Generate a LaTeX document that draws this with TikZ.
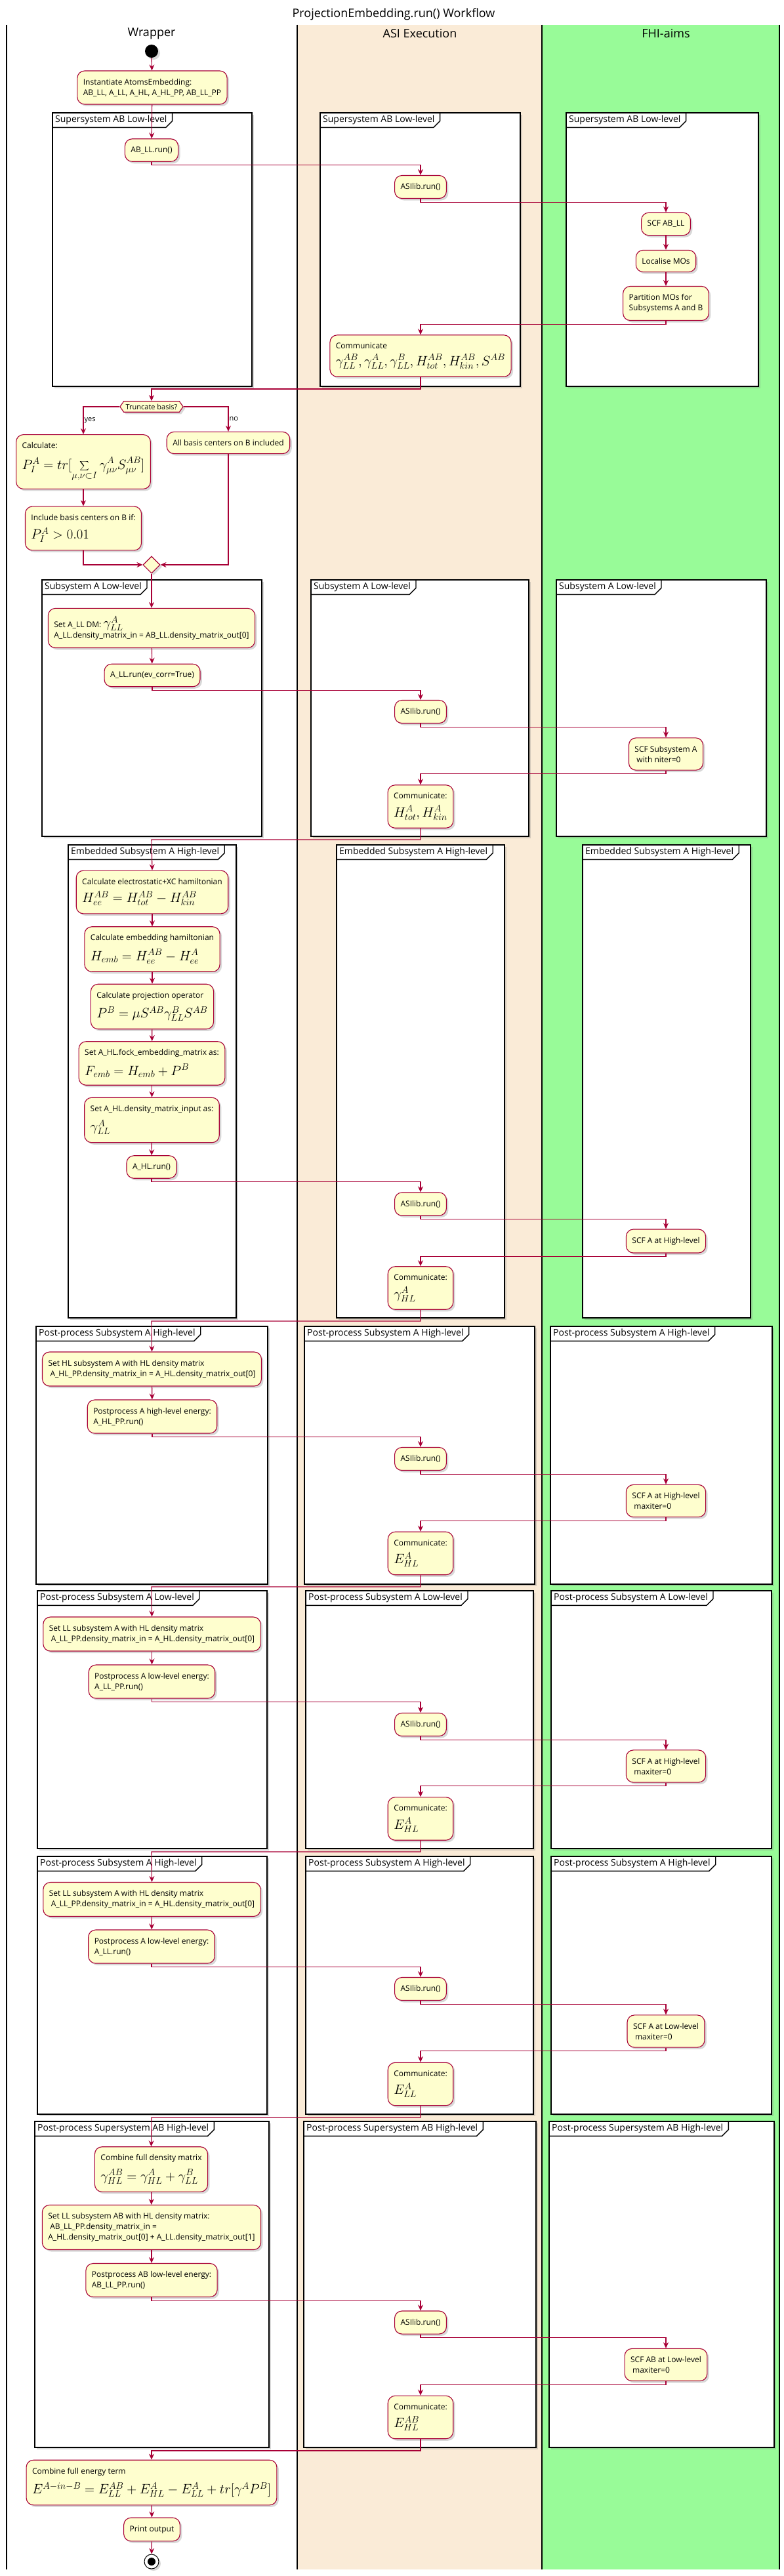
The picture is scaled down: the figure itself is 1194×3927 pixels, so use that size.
\documentclass[tikz,border=0pt]{standalone}
\usepackage[no-math]{fontspec}
\setmainfont{Open Sans}
\usetikzlibrary{arrows.meta, shapes.geometric, shapes.symbols, shadows}

\definecolor{umlred}{HTML}{A80036}
\definecolor{umlyellow}{HTML}{FEFECE}
\definecolor{asiBG}{HTML}{FAEBD7}
\definecolor{aimsBG}{HTML}{98FB98}

% bigger type for the formulas
\newcommand{\mth}{\fontsize{20}{24}\selectfont}
% group frame: left, top, right, bottom, title
\newcommand{\grp}[5]{%
\draw[grpframe] (#1,#2) rectangle (#3,#4) ;
\node[grptitle] (gtitle) at (#1,#2) {#5} ;
\draw[line width=1.4pt] (gtitle.south west) -- ([xshift=-6pt]gtitle.south east)
-- ([xshift=4pt, yshift=10pt]gtitle.south east) -- ([xshift=4pt]gtitle.north east) ;
}

\begin{document}
\begin{tikzpicture}[x=1pt, y=-1pt,
act/.style={draw=umlred, fill=umlyellow, line width=1.1pt, rounded corners=11pt,
  align=left, inner xsep=9pt, inner ysep=12pt, font=\fontsize{12}{16}\selectfont,
  drop shadow={shadow xshift=3pt, shadow yshift=-3pt, opacity=0.3}},
dec/.style={signal, signal to=east and west, signal from=nowhere, signal pointer angle=110,
  draw=umlred, fill=umlyellow, line width=1.1pt, inner xsep=3pt, inner ysep=4pt,
  font=\fontsize{11}{13}\selectfont,
  drop shadow={shadow xshift=3pt, shadow yshift=-3pt, opacity=0.3}},
merge/.style={diamond, draw=umlred, fill=umlyellow, line width=1.1pt, minimum size=26pt,
  inner sep=0pt, drop shadow={shadow xshift=3pt, shadow yshift=-3pt, opacity=0.3}},
grpframe/.style={draw=black, line width=1.4pt, fill=white,
  drop shadow={shadow xshift=3pt, shadow yshift=-3pt, opacity=0.3}},
grptitle/.style={anchor=north west, inner xsep=4pt, inner ysep=0pt, minimum height=22pt,
  font=\fontsize{14}{16}\selectfont},
lane/.style={font=\fontsize{18}{20}\selectfont},
flow/.style={draw=umlred, line width=1.1pt, -{Stealth[length=9pt, width=8pt, inset=3pt]}},
branch/.style={font=\fontsize{11}{13}\selectfont, inner sep=1pt, anchor=west},
]
\useasboundingbox (0,0) rectangle (1194,3927) ;

% swimlanes
\fill[asiBG] (453,37.5) rectangle (826,3917) ;
\fill[aimsBG] (826,37.5) rectangle (1188,3917) ;
\foreach \x in {10,453,826,1188}
\draw[line width=1.2pt] (\x,37.5) -- (\x,3917) ;
\node[lane] (title) at (600,22) {ProjectionEmbedding.run() Workflow} ;
\node[lane] (wrapper) at (231,51) {Wrapper} ;
\node[lane] (asi) at (640,51) {ASI Execution} ;
\node[lane] (aims) at (1015,51) {FHI-aims} ;

% group frames
\foreach \l/\r in {80/384, 488/793, 863/1156}
\grp{\l}{172}{\r}{589}{Supersystem AB Low-level} ;
\foreach \l/\r in {64/399, 474/806, 848/1168}
\grp{\l}{884}{\r}{1275}{Subsystem A Low-level} ;
\foreach \l/\r in {104/360, 513/769, 888/1144}
\grp{\l}{1288}{\r}{2009}{Embedded Subsystem A High-level} ;
\foreach \l/\r in {55/408, 464/815, 839/1177}
\grp{\l}{2022}{\r}{2415}{Post-process Subsystem A High-level} ;
\foreach \l/\r in {57/407, 466/813, 840/1176}
\grp{\l}{2425}{\r}{2818}{Post-process Subsystem A Low-level} ;
\foreach \l/\r in {57/407, 466/813, 840/1176}
\grp{\l}{2830}{\r}{3223}{Post-process Subsystem A High-level} ;
\foreach \l/\r in {53/410, 463/817, 837/1180}
\grp{\l}{3234}{\r}{3731}{Post-process Supersystem AB High-level} ;

% start and supersystem AB low-level
\node[circle, fill=black, minimum size=20pt, inner sep=0pt,
drop shadow={shadow xshift=3pt, shadow yshift=-3pt, opacity=0.3}] (start) at (231,78) {} ;
\node[act] (inst) at (232,133.5) {Instantiate AtomsEmbedding:\\ AB\_LL, A\_LL, A\_HL, A\_HL\_PP, AB\_LL\_PP} ;
\node[act] (abrun) at (231,229) {AB\_LL.run()} ;
\node[act] (asi1) at (641,285) {ASIlib.run()} ;
\node[act] (scf1) at (1015,341.5) {SCF AB\_LL} ;
\node[act] (loc) at (1015,398) {Localise MOs} ;
\node[act] (part) at (1015,462.5) {Partition MOs for\\ Subsystems A and B} ;
\node[act] (comm1) at (641,542.5) {Communicate\\[7pt] {\mth $\gamma^{AB}_{LL},\gamma^{A}_{LL},\gamma^{B}_{LL},H^{AB}_{tot},H^{AB}_{kin},S^{AB}$}} ;

% basis truncation
\node[dec] (trunc) at (231,620) {Truncate basis?} ;
\node[act] (calc) at (127,704) {Calculate:\\[12pt] {\mth $P^A_I = tr[\displaystyle\sum_{\mu,\nu\subset I}\gamma^A_{\mu\nu}S^{AB}_{\mu\nu}]$}} ;
\node[act] (allb) at (348,675) {All basis centers on B included} ;
\node[act] (inc) at (127,805.5) {Include basis centers on B if:\\[10pt] {\mth $P^A_I > 0.01$}} ;
\node[merge] (merge) at (231,861) {} ;

% subsystem A low-level
\node[act] (setall) at (231,957.5) {Set A\_LL DM: {\mth $\gamma^A_{LL}$}\\ A\_LL.density\_matrix\_in = AB\_LL.density\_matrix\_out[0]} ;
\node[act] (allrun) at (232,1029.5) {A\_LL.run(ev\_corr=True)} ;
\node[act] (asi2) at (641,1085) {ASIlib.run()} ;
\node[act] (scf2) at (1015,1149.5) {SCF Subsystem A\\ \hspace*{3pt}with niter=0} ;
\node[act] (comm2) at (641,1229.5) {Communicate:\\[9pt] {\mth $H^A_{tot}, H^A_{kin}$}} ;

% embedded subsystem A high-level
\node[act] (elec) at (232,1360) {Calculate electrostatic+XC hamiltonian\\[9pt] {\mth $H^{AB}_{ee} = H^{AB}_{tot} - H^{AB}_{kin}$}} ;
\node[act] (embh) at (232,1447) {Calculate embedding hamiltonian\\[9pt] {\mth $H_{emb} = H^{AB}_{ee} - H^{A}_{ee}$}} ;
\node[act] (proj) at (232,1534.5) {Calculate projection operator\\[9pt] {\mth $P^B = \mu S^{AB}\gamma^B_{LL}S^{AB}$}} ;
\node[act] (fock) at (231.5,1621) {Set A\_HL.fock\_embedding\_matrix as:\\[9pt] {\mth $F_{emb} = H_{emb} + P^B$}} ;
\node[act] (dens) at (231.5,1707.5) {Set A\_HL.density\_matrix\_input as:\\[9pt] {\mth $\gamma^A_{LL}$}} ;
\node[act] (ahlrun) at (231,1779) {A\_HL.run()} ;
\node[act] (asi3) at (641,1835.5) {ASIlib.run()} ;
\node[act] (scf3) at (1015,1892) {SCF A at High-level} ;
\node[act] (comm3) at (641,1963.5) {Communicate:\\[9pt] {\mth $\gamma^A_{HL}$}} ;

% post-process subsystem A high-level
\node[act] (sethl) at (231.5,2087) {Set HL subsystem A with HL density matrix\\ \hspace*{3pt}A\_HL\_PP.density\_matrix\_in = A\_HL.density\_matrix\_out[0]} ;
\node[act] (pphl) at (232,2159.5) {Postprocess A high-level energy:\\ A\_HL\_PP.run()} ;
\node[act] (asi4) at (641,2224) {ASIlib.run()} ;
\node[act] (scf4) at (1015,2288) {SCF A at High-level\\ \hspace*{3pt}maxiter=0} ;
\node[act] (comm4) at (641,2368) {Communicate:\\[9pt] {\mth $E^A_{HL}$}} ;

% post-process subsystem A low-level
\node[act] (setll) at (231.5,2491) {Set LL subsystem A with HL density matrix\\ \hspace*{3pt}A\_LL\_PP.density\_matrix\_in = A\_HL.density\_matrix\_out[0]} ;
\node[act] (ppll) at (231.5,2563.5) {Postprocess A low-level energy:\\ A\_LL\_PP.run()} ;
\node[act] (asi5) at (641,2629) {ASIlib.run()} ;
\node[act] (scf5) at (1015,2692.5) {SCF A at High-level\\ \hspace*{3pt}maxiter=0} ;
\node[act] (comm5) at (641,2772.5) {Communicate:\\[9pt] {\mth $E^A_{HL}$}} ;

% post-process subsystem A high-level, second pass
\node[act] (setll2) at (231.5,2895.5) {Set LL subsystem A with HL density matrix\\ \hspace*{3pt}A\_LL\_PP.density\_matrix\_in = A\_HL.density\_matrix\_out[0]} ;
\node[act] (ppll2) at (231,2967.5) {Postprocess A low-level energy:\\ A\_LL.run()} ;
\node[act] (asi6) at (641,3032) {ASIlib.run()} ;
\node[act] (scf6) at (1015,3096.5) {SCF A at Low-level\\ \hspace*{3pt}maxiter=0} ;
\node[act] (comm6) at (641,3177) {Communicate:\\[9pt] {\mth $E^A_{LL}$}} ;

% post-process supersystem AB high-level
\node[act] (combdm) at (230.5,3307) {Combine full density matrix\\[9pt] {\mth $\gamma^{AB}_{HL} = \gamma^A_{HL} + \gamma^B_{LL}$}} ;
\node[act] (setab) at (231,3395.5) {Set LL subsystem AB with HL density matrix:\\ \hspace*{3pt}AB\_LL\_PP.density\_matrix\_in =\\ A\_HL.density\_matrix\_out[0] + A\_LL.density\_matrix\_out[1]} ;
\node[act] (ppab) at (231,3476) {Postprocess AB low-level energy:\\ AB\_LL\_PP.run()} ;
\node[act] (asi7) at (641,3540.5) {ASIlib.run()} ;
\node[act] (scf7) at (1015,3605) {SCF AB at Low-level\\ \hspace*{3pt}maxiter=0} ;
\node[act] (comm7) at (641,3685) {Communicate:\\[9pt] {\mth $E^{AB}_{HL}$}} ;

% final energy
\node[act] (energy) at (231,3784.5) {Combine full energy term\\[9pt] {\mth $E^{A-in-B} = E^{AB}_{LL} + E^A_{HL} - E^A_{LL} + tr[\gamma^A P^B]$}} ;
\node[act] (print) at (231.5,3856) {Print output} ;
\node[circle, draw=black, fill=white, line width=1pt, minimum size=22pt, inner sep=0pt,
drop shadow={shadow xshift=3pt, shadow yshift=-3pt, opacity=0.3}] (stop) at (231,3905) {} ;
\fill (stop) circle (6) ;

% junctions between the groups
\coordinate (j1) at (231,593) ;
\coordinate (j2) at (231,1280) ;
\coordinate (j3) at (231,2014) ;
\coordinate (j4) at (231,2419) ;
\coordinate (j5) at (231,2823) ;
\coordinate (j6) at (231,3228) ;
\coordinate (j7) at (231,3736) ;

% control flow
\draw[flow] (start) -- (inst) ;
\draw[flow] (inst) -- (abrun) ;
\draw[flow] (abrun.south) -- ++(0,5) -| (asi1.north) ;
\draw[flow] (asi1.south) -- ++(0,5) -| (scf1.north) ;
\draw[flow] (scf1) -- (loc) ;
\draw[flow] (loc) -- (part) ;
\draw[flow] (part.south) -- ++(0,5) -| (comm1.north) ;
\draw[flow] (comm1.south) |- (j1) -- (trunc.north) ;
\draw[flow] (trunc.west) -| node[branch, pos=0.75] {yes} (calc.north) ;
\draw[flow] (trunc.east) -| node[branch, pos=0.75] {no} (allb.north) ;
\draw[flow] (calc) -- (inc) ;
\draw[flow] (inc.south) |- (merge.west) ;
\draw[flow] (allb.south) |- (merge.east) ;
\draw[flow] (merge) -- (setall) ;
\draw[flow] (setall) -- (allrun) ;
\draw[flow] (allrun.south) -- ++(0,5) -| (asi2.north) ;
\draw[flow] (asi2.south) -- ++(0,5) -| (scf2.north) ;
\draw[flow] (scf2.south) -- ++(0,5) -| (comm2.north) ;
\draw[flow] (comm2.south) |- (j2) -- (elec.north) ;
\draw[flow] (elec) -- (embh) ;
\draw[flow] (embh) -- (proj) ;
\draw[flow] (proj) -- (fock) ;
\draw[flow] (fock) -- (dens) ;
\draw[flow] (dens) -- (ahlrun) ;
\draw[flow] (ahlrun.south) -- ++(0,5) -| (asi3.north) ;
\draw[flow] (asi3.south) -- ++(0,5) -| (scf3.north) ;
\draw[flow] (scf3.south) -- ++(0,5) -| (comm3.north) ;
\draw[flow] (comm3.south) |- (j3) -- (sethl.north) ;
\draw[flow] (sethl) -- (pphl) ;
\draw[flow] (pphl.south) -- ++(0,5) -| (asi4.north) ;
\draw[flow] (asi4.south) -- ++(0,5) -| (scf4.north) ;
\draw[flow] (scf4.south) -- ++(0,5) -| (comm4.north) ;
\draw[flow] (comm4.south) |- (j4) -- (setll.north) ;
\draw[flow] (setll) -- (ppll) ;
\draw[flow] (ppll.south) -- ++(0,5) -| (asi5.north) ;
\draw[flow] (asi5.south) -- ++(0,5) -| (scf5.north) ;
\draw[flow] (scf5.south) -- ++(0,5) -| (comm5.north) ;
\draw[flow] (comm5.south) |- (j5) -- (setll2.north) ;
\draw[flow] (setll2) -- (ppll2) ;
\draw[flow] (ppll2.south) -- ++(0,5) -| (asi6.north) ;
\draw[flow] (asi6.south) -- ++(0,5) -| (scf6.north) ;
\draw[flow] (scf6.south) -- ++(0,5) -| (comm6.north) ;
\draw[flow] (comm6.south) |- (j6) -- (combdm.north) ;
\draw[flow] (combdm) -- (setab) ;
\draw[flow] (setab) -- (ppab) ;
\draw[flow] (ppab.south) -- ++(0,5) -| (asi7.north) ;
\draw[flow] (asi7.south) -- ++(0,5) -| (scf7.north) ;
\draw[flow] (scf7.south) -- ++(0,5) -| (comm7.north) ;
\draw[flow] (comm7.south) |- (j7) -- (energy.north) ;
\draw[flow] (energy) -- (print) ;
\draw[flow] (print) -- (stop) ;

\end{tikzpicture}
\end{document}
